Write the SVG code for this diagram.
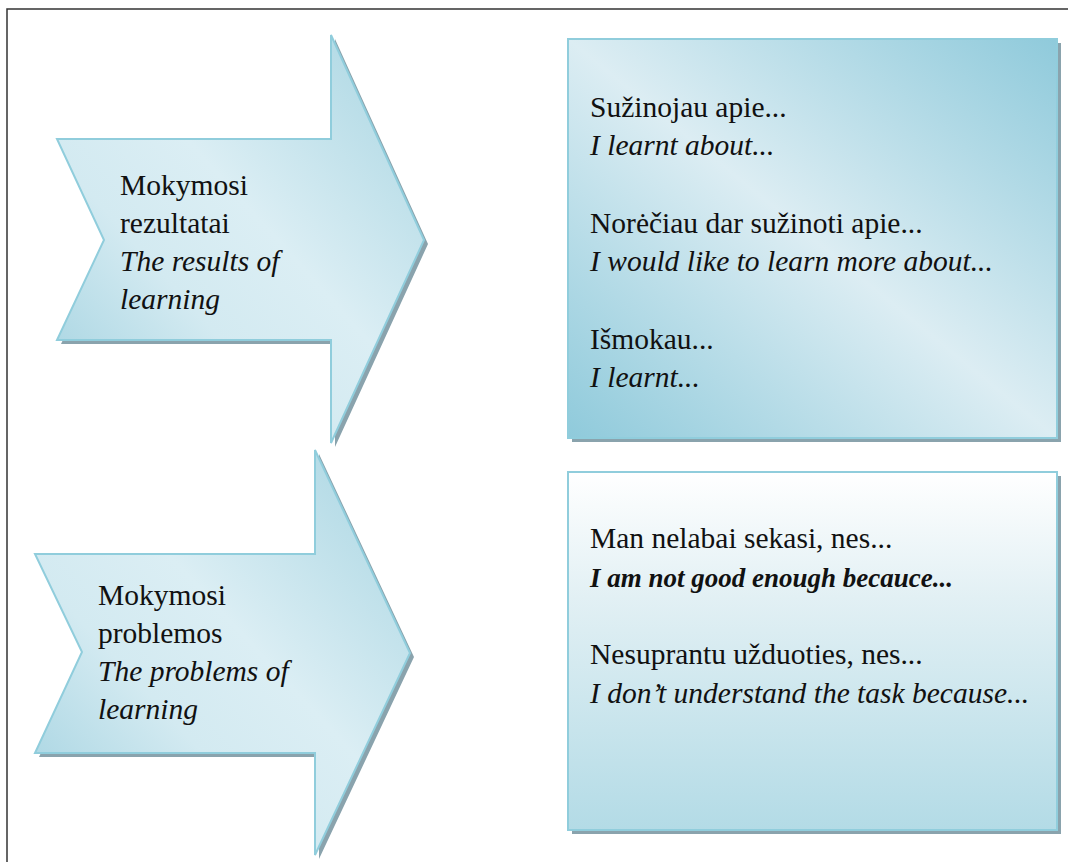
<svg xmlns="http://www.w3.org/2000/svg" width="1068" height="862" viewBox="0 0 1068 862">
<style>
.t{font-family:"Liberation Serif","Times New Roman",serif;font-size:29.5px;fill:#111}
.i{font-style:italic}
.b{font-weight:bold;font-size:27px}
.sh{fill:#8aa3ad}
.st{stroke:#90cddc;stroke-width:2}
</style>
<defs>
<linearGradient id="gA" x1="0" y1="1" x2="1" y2="0">
<stop offset="0" stop-color="#9ccfde"/>
<stop offset="0.35" stop-color="#d3eaf1"/>
<stop offset="0.55" stop-color="#dbeef4"/>
<stop offset="1" stop-color="#a6d4e1"/>
</linearGradient>
<linearGradient id="gB1" x1="1" y1="0" x2="0" y2="1">
<stop offset="0" stop-color="#8fcadb"/>
<stop offset="0.5" stop-color="#dcedf3"/>
<stop offset="1" stop-color="#8fcadb"/>
</linearGradient>
<linearGradient id="gB2" x1="0" y1="0" x2="0" y2="1">
<stop offset="0" stop-color="#ffffff"/>
<stop offset="0.35" stop-color="#e2f0f4"/>
<stop offset="1" stop-color="#b3dbe6"/>
</linearGradient>
</defs>
<rect width="1068" height="862" fill="#fff"/>
<path d="M7,862 V9 H1068" fill="none" stroke="#333" stroke-width="1.5"/>

<g id="arrow1">
<path class="sh" d="M61,143 L335,143 L335,39 L428,244 L335,447 L335,344 L61,344 L108,244 Z"/>
<path class="st" fill="url(#gA)" d="M57,139 L331,139 L331,35 L424,240 L331,443 L331,340 L57,340 L104,240 Z"/>
<text class="t" x="120" y="195">Mokymosi</text>
<text class="t" x="120" y="233">rezultatai</text>
<text class="t i" x="120" y="271">The results of</text>
<text class="t i" x="120" y="309">learning</text>
</g>

<g id="arrow2">
<path class="sh" d="M39,558 L319,558 L319,454 L414,657 L319,859 L319,757 L39,757 L86,656 Z"/>
<path class="st" fill="url(#gA)" d="M35,554 L315,554 L315,450 L410,653 L315,855 L315,753 L35,753 L82,652 Z"/>
<text class="t" x="98" y="605">Mokymosi</text>
<text class="t" x="98" y="643">problemos</text>
<text class="t i" x="98" y="681">The problems of</text>
<text class="t i" x="98" y="719">learning</text>
</g>

<g id="box1">
<rect class="sh" x="572" y="43" width="489" height="399"/>
<rect class="st" fill="url(#gB1)" x="568" y="39" width="489" height="399"/>
<text class="t" x="590" y="117">Sužinojau apie...</text>
<text class="t i" x="590" y="155">I learnt about...</text>
<text class="t" x="590" y="233">Norėčiau dar sužinoti apie...</text>
<text class="t i" x="590" y="271">I would like to learn more about...</text>
<text class="t" x="590" y="349">Išmokau...</text>
<text class="t i" x="590" y="387">I learnt...</text>
</g>

<g id="box2">
<rect class="sh" x="572" y="476" width="489" height="358"/>
<rect class="st" fill="url(#gB2)" x="568" y="472" width="489" height="358"/>
<text class="t" x="590" y="548">Man nelabai sekasi, nes...</text>
<text class="t i b" x="590" y="587">I am not good enough becauce...</text>
<text class="t" x="590" y="664">Nesuprantu užduoties, nes...</text>
<text class="t i" x="590" y="703">I don’t understand the task because...</text>
</g>

<g id="connectors"></g>
</svg>
